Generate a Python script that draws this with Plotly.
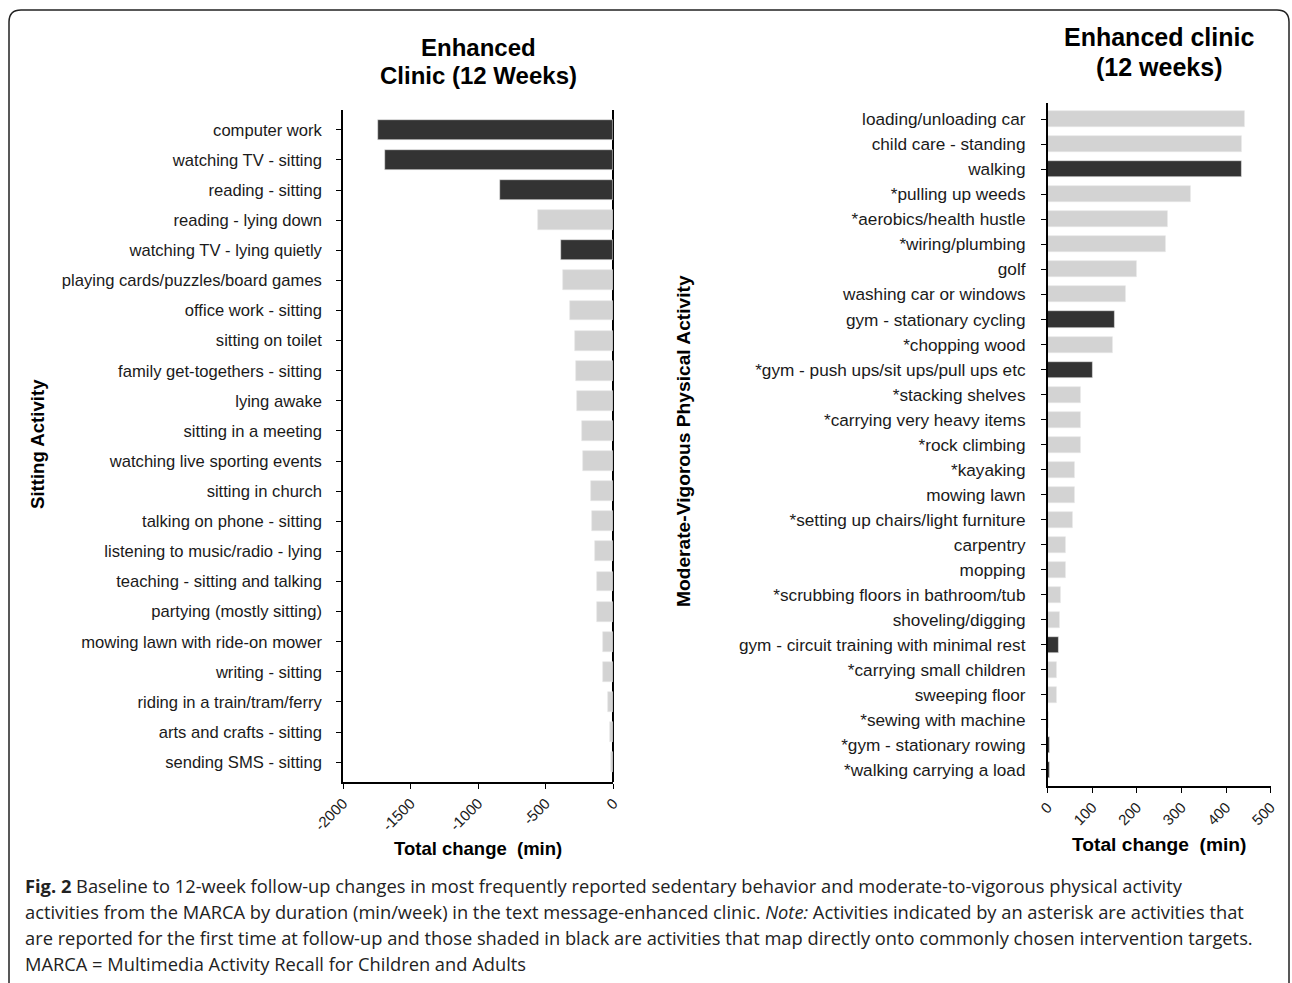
import plotly.graph_objects as go

W, H = 1292, 983

# ---------------- data ----------------
sit_labels = [
    "computer work", "watching TV - sitting", "reading - sitting", "reading - lying down",
    "watching TV - lying quietly", "playing cards/puzzles/board games", "office work - sitting",
    "sitting on toilet", "family get-togethers - sitting", "lying awake", "sitting in a meeting",
    "watching live sporting events", "sitting in church", "talking on phone - sitting",
    "listening to music/radio - lying", "teaching - sitting and talking", "partying (mostly sitting)",
    "mowing lawn with ride-on mower", "writing - sitting", "riding in a train/tram/ferry",
    "arts and crafts - sitting", "sending SMS - sitting",
]
sit_values = [-1741, -1691, -839, -560, -390, -375, -321, -284, -274, -271, -230, -222,
              -165, -158, -133, -118, -118, -74, -74, -37, -25, -17]
sit_target = [1, 1, 1, 0, 1, 0, 0, 0, 0, 0, 0, 0, 0, 0, 0, 0, 0, 0, 0, 0, 0, 0]

mvpa_labels = [
    "loading/unloading car", "child care - standing", "walking", "*pulling up weeds",
    "*aerobics/health hustle", "*wiring/plumbing", "golf", "washing car or windows",
    "gym - stationary cycling", "*chopping wood", "*gym - push ups/sit ups/pull ups etc",
    "*stacking shelves", "*carrying very heavy items", "*rock climbing", "*kayaking",
    "mowing lawn", "*setting up chairs/light furniture", "carpentry", "mopping",
    "*scrubbing floors in bathroom/tub", "shoveling/digging", "gym - circuit training with minimal rest",
    "*carrying small children", "sweeping floor", "*sewing with machine",
    "*gym - stationary rowing", "*walking carrying a load",
]
mvpa_values = [441, 436, 434, 321, 270, 265, 200, 175, 150, 145, 100, 75, 75, 75, 60, 60,
               55, 40, 40, 30, 26, 25, 20, 20, 3, 5, 5]
mvpa_target = [0, 0, 1, 0, 0, 0, 0, 0, 1, 0, 1, 0, 0, 0, 0, 0, 0, 0, 0, 0, 0, 1, 0, 0, 0, 1, 1]

left_ticks = [-2000, -1500, -1000, -500, 0]
right_ticks = [0, 100, 200, 300, 400, 500]

DARK = "#333333"
LIGHT = "#d3d3d3"
TXT = "#1a1a1a"


def px(x):
    return x / W


def py(y):
    return 1 - y / H


fig = go.Figure()
fig.add_trace(go.Bar(
    y=sit_labels, x=sit_values, orientation="h", width=0.66,
    marker=dict(color=[DARK if t else LIGHT for t in sit_target],
                line=dict(color="#e6e6e6", width=0.6)),
    xaxis="x", yaxis="y", showlegend=False,
))
fig.add_trace(go.Bar(
    y=mvpa_labels, x=mvpa_values, orientation="h", width=0.64,
    marker=dict(color=[DARK if t else LIGHT for t in mvpa_target],
                line=dict(color="#e6e6e6", width=0.6)),
    xaxis="x2", yaxis="y2", showlegend=False,
))

ARIAL = "Liberation Sans, Arial, sans-serif"
xtickfont = dict(family=ARIAL, size=15, color=TXT)

n1, n2 = len(sit_labels), len(mvpa_labels)

fig.update_layout(
    width=W, height=H, autosize=False,
    margin=dict(l=0, r=0, t=0, b=0, pad=0),
    paper_bgcolor="white", plot_bgcolor="white",
    bargap=0,
    xaxis=dict(domain=[px(343), px(613.3)], anchor="y", range=[-2000, 0], automargin=False,
               tickvals=left_ticks, ticktext=[str(v) for v in left_ticks], tickangle=-45,
               showline=True, linecolor="black", linewidth=1.5, ticks="outside",
               ticklen=5, tickcolor="black", showgrid=False,
               zeroline=True, zerolinecolor="black", zerolinewidth=1.5, tickfont=xtickfont),
    yaxis=dict(domain=[py(782), py(110)], anchor="x", type="category", automargin=False,
               categoryorder="array", categoryarray=sit_labels,
               range=[n1 - 1 + 0.66, -0.66],
               showline=True, linecolor="black", linewidth=1.5, ticks="outside",
               ticklen=5, tickcolor="black", showgrid=False, ticklabelstandoff=11,
               tickfont=dict(family=ARIAL, size=16.6, color=TXT)),
    xaxis2=dict(domain=[px(1047.7), px(1270.7)], anchor="y2", range=[0, 500], automargin=False,
                tickvals=right_ticks, ticktext=[str(v) for v in right_ticks], tickangle=-45,
                showline=True, linecolor="black", linewidth=1.5, ticks="outside",
                ticklen=5, tickcolor="black", showgrid=False, zeroline=False,
                tickfont=xtickfont),
    yaxis2=dict(domain=[py(786), py(103)], anchor="x2", type="category", automargin=False,
                categoryorder="array", categoryarray=mvpa_labels,
                range=[n2 - 1 + 0.64, -0.65],
                showline=True, linecolor="black", linewidth=1.5, ticks="outside",
                ticklen=5, tickcolor="black", showgrid=False, ticklabelstandoff=12,
                tickfont=dict(family=ARIAL, size=17.2, color=TXT)),
)

bold = dict(family=ARIAL, color="black")
ann = []


def add_text(x, y, text, size, angle=0):
    ann.append(dict(x=px(x), y=py(y), text=text, textangle=angle,
                    font=dict(size=size, **bold), showarrow=False, xref="paper", yref="paper",
                    xanchor="center", yanchor="middle", align="center"))


# panel titles
add_text(478, 47, "<b>Enhanced</b>", 24)
add_text(478, 75, "<b>Clinic (12 Weeks)</b>", 24)
add_text(1159, 37, "<b>Enhanced clinic</b>", 25)
add_text(1159, 67, "<b>(12 weeks)</b>", 25)
# axis titles
add_text(37, 444, "<b>Sitting Activity</b>", 18.6, -90)
add_text(683, 441, "<b>Moderate-Vigorous Physical Activity</b>", 19.2, -90)
add_text(478, 848, "<b>Total change  (min)</b>", 18.5)
add_text(1159, 844, "<b>Total change  (min)</b>", 19.2)

# caption
cap_lines = [
    "<b>Fig. 2</b> Baseline to 12-week follow-up changes in most frequently reported sedentary behavior and moderate-to-vigorous physical activity",
    "activities from the MARCA by duration (min/week) in the text message-enhanced clinic. <i>Note:</i> Activities indicated by an asterisk are activities that",
    "are reported for the first time at follow-up and those shaded in black are activities that map directly onto commonly chosen intervention targets.",
    "MARCA = Multimedia Activity Recall for Children and Adults",
]
cap_y = [885, 911, 937, 963]
for line, yy in zip(cap_lines, cap_y):
    ann.append(dict(x=px(23), y=py(yy), text=line, showarrow=False, xref="paper", yref="paper",
                    xanchor="left", yanchor="middle",
                    font=dict(family="Open Sans, Noto Sans, sans-serif", size=18.3, color="#222222")))
fig.update_layout(annotations=ann)

# rounded border
x0, y0, x1, y1, r = 9, 10, 1289, 995, 12
pts = (f"M {px(x0 + r)},{py(y0)} L {px(x1 - r)},{py(y0)} "
       f"Q {px(x1)},{py(y0)} {px(x1)},{py(y0 + r)} L {px(x1)},{py(y1 - r)} "
       f"Q {px(x1)},{py(y1)} {px(x1 - r)},{py(y1)} L {px(x0 + r)},{py(y1)} "
       f"Q {px(x0)},{py(y1)} {px(x0)},{py(y1 - r)} L {px(x0)},{py(y0 + r)} "
       f"Q {px(x0)},{py(y0)} {px(x0 + r)},{py(y0)} Z")
fig.add_shape(type="path", path=pts, xref="paper", yref="paper",
              line=dict(color="#222222", width=1.5), fillcolor="rgba(0,0,0,0)")

fig.write_html("out.html")
